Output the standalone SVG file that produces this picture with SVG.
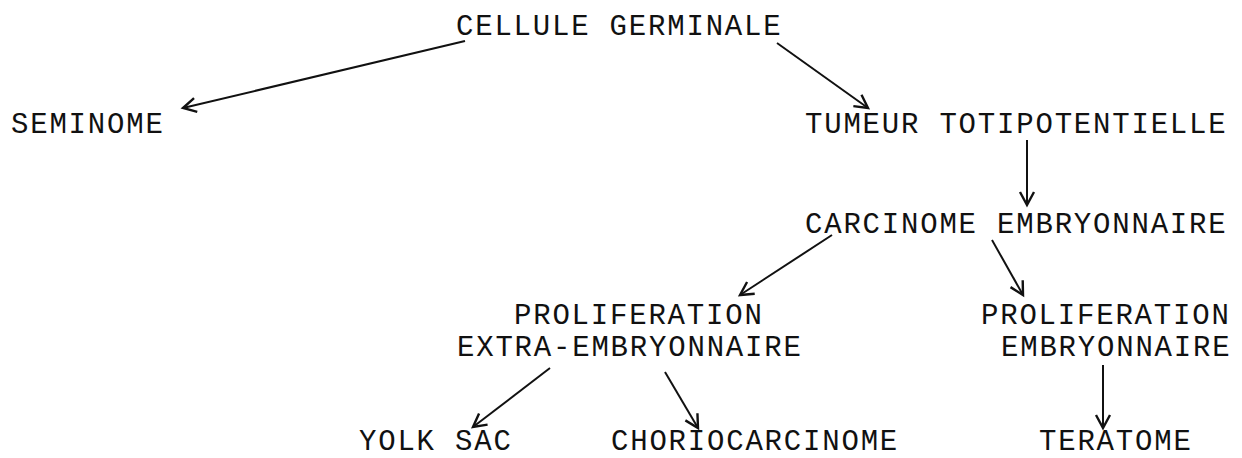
<svg xmlns="http://www.w3.org/2000/svg" width="1242" height="458" viewBox="0 0 1242 458">
<style>
text{font-family:"Liberation Mono","DejaVu Sans Mono",monospace;font-size:29px;letter-spacing:1.8px;fill:#111;}
.c line{stroke:#111;stroke-width:2;fill:none;marker-end:url(#ah);}
</style>
<defs>
<marker id="ah" viewBox="-16 -10 20 20" refX="0" refY="0" markerWidth="20" markerHeight="20" markerUnits="userSpaceOnUse" orient="auto">
<path d="M-13,-7 L0,0 L-13,7" fill="none" stroke="#111" stroke-width="2.4"/>
</marker>
</defs>
<rect width="1242" height="458" fill="#fff"/>
<g id="n-cellule"><text x="456" y="35">CELLULE GERMINALE</text></g>
<g id="n-seminome"><text x="11" y="133">SEMINOME</text></g>
<g id="n-tumeur"><text x="805" y="133">TUMEUR TOTIPOTENTIELLE</text></g>
<g id="n-carcinome"><text x="805" y="233">CARCINOME EMBRYONNAIRE</text></g>
<g id="n-prolif-extra"><text x="514" y="324">PROLIFERATION</text><text x="457" y="356">EXTRA-EMBRYONNAIRE</text></g>
<g id="n-prolif-emb"><text x="981" y="324">PROLIFERATION</text><text x="1001" y="356">EMBRYONNAIRE</text></g>
<g id="n-yolk"><text x="359" y="450">YOLK SAC</text></g>
<g id="n-chorio"><text x="611" y="450">CHORIOCARCINOME</text></g>
<g id="n-teratome"><text x="1039" y="450">TERATOME</text></g>
<g class="c" id="connectors">
<line x1="465" y1="41" x2="183" y2="108"/>
<line x1="777" y1="43" x2="868" y2="108"/>
<line x1="1027" y1="140" x2="1027" y2="205"/>
<line x1="832" y1="235" x2="740" y2="295"/>
<line x1="992" y1="240" x2="1023" y2="295"/>
<line x1="550" y1="368" x2="473" y2="427"/>
<line x1="665" y1="372" x2="698" y2="428"/>
<line x1="1103" y1="365" x2="1103" y2="428"/>
</g>
</svg>
